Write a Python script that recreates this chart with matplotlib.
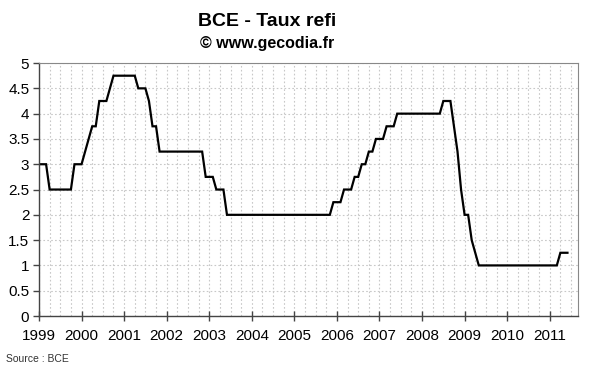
import matplotlib
matplotlib.use("Agg")
import matplotlib.pyplot as plt
import numpy as np
from matplotlib.ticker import MultipleLocator

# ECB refi rate, end of month, Jan 1999 -> Jun 2011
taux_1999 = [3.0, 3.0, 3.0, 2.5, 2.5, 2.5, 2.5, 2.5, 2.5, 2.5, 3.0, 3.0]
taux_2000 = [3.0, 3.25, 3.5, 3.75, 3.75, 4.25, 4.25, 4.25, 4.5, 4.75, 4.75, 4.75]
taux_2001 = [4.75, 4.75, 4.75, 4.75, 4.5, 4.5, 4.5, 4.25, 3.75, 3.75, 3.25, 3.25]
taux_2002 = [3.25, 3.25, 3.25, 3.25, 3.25, 3.25, 3.25, 3.25, 3.25, 3.25, 3.25, 2.75]
taux_2003 = [2.75, 2.75, 2.5, 2.5, 2.5, 2.0, 2.0, 2.0, 2.0, 2.0, 2.0, 2.0]
taux_2004 = [2.0] * 12
taux_2005 = [2.0, 2.0, 2.0, 2.0, 2.0, 2.0, 2.0, 2.0, 2.0, 2.0, 2.0, 2.25]
taux_2006 = [2.25, 2.25, 2.5, 2.5, 2.5, 2.75, 2.75, 3.0, 3.0, 3.25, 3.25, 3.5]
taux_2007 = [3.5, 3.5, 3.75, 3.75, 3.75, 4.0, 4.0, 4.0, 4.0, 4.0, 4.0, 4.0]
taux_2008 = [4.0, 4.0, 4.0, 4.0, 4.0, 4.0, 4.25, 4.25, 4.25, 3.75, 3.25, 2.5]
taux_2009 = [2.0, 2.0, 1.5, 1.25, 1.0, 1.0, 1.0, 1.0, 1.0, 1.0, 1.0, 1.0]
taux_2010 = [1.0] * 12
taux_2011 = [1.0, 1.0, 1.0, 1.25, 1.25, 1.25]

annees = list(range(1999, 2012))

taux = (taux_1999 + taux_2000 + taux_2001 + taux_2002 + taux_2003 + taux_2004
        + taux_2005 + taux_2006 + taux_2007 + taux_2008 + taux_2009 + taux_2010
        + taux_2011)
dates = 1999 + np.arange(len(taux)) / 12.0

plt.rcParams['font.family'] = ['Liberation Sans', 'DejaVu Sans']

fig = plt.figure(figsize=(6, 3.72), dpi=100)
ax = fig.add_axes([0.065, 0.1505, 0.8985, 0.68])

ax.plot(dates, taux, color="black", linewidth=1.6, solid_joinstyle="miter")

ax.set_xlim(1999, 2011 + 8 / 12.0)
ax.set_ylim(0, 5)

ax.set_xticks(annees)
ax.set_xticklabels([str(a) for a in annees], fontsize=11)
ax.xaxis.set_minor_locator(MultipleLocator(0.25))
ax.yaxis.set_major_locator(MultipleLocator(0.5))
ax.set_yticklabels([("%g" % v) for v in ax.get_yticks()], fontsize=11)

ax.grid(which="minor", axis="x", color="#c8c8c8", linestyle=(0, (1.5, 2)), linewidth=0.8)
ax.grid(which="major", axis="x", color="#c8c8c8", linestyle=(0, (1.5, 2)), linewidth=0.8)
ax.grid(which="major", axis="y", color="#c8c8c8", linestyle=(0, (1.5, 2)), linewidth=0.8)
ax.set_axisbelow(True)

ax.tick_params(axis="x", which="major", direction="inout", length=7, width=1, color="#444444", pad=6)
ax.tick_params(axis="x", which="minor", length=0)
ax.tick_params(axis="y", which="major", direction="out", length=4, width=1, color="#444444", pad=3)

for s in ["left", "bottom"]:
    ax.spines[s].set_color("#444444")
    ax.spines[s].set_linewidth(1.0)
for s in ["top", "right"]:
    ax.spines[s].set_color("#888888")
    ax.spines[s].set_linewidth(0.8)

fig.text(0.445, 1 - 26.5 / 372, "BCE - Taux refi", ha="center", va="baseline",
         fontsize=14, fontweight="bold")
fig.text(0.445, 1 - 48 / 372, "\u00a9 www.gecodia.fr", ha="center", va="baseline",
         fontsize=11.5, fontweight="bold")
fig.text(0.01, 1 - 362 / 372, "Source : BCE", ha="left", va="baseline",
         fontsize=7.5, color="#333333",
         family=['Liberation Sans Narrow', 'Liberation Sans', 'DejaVu Sans'])

fig.savefig("out.png", dpi=100)
